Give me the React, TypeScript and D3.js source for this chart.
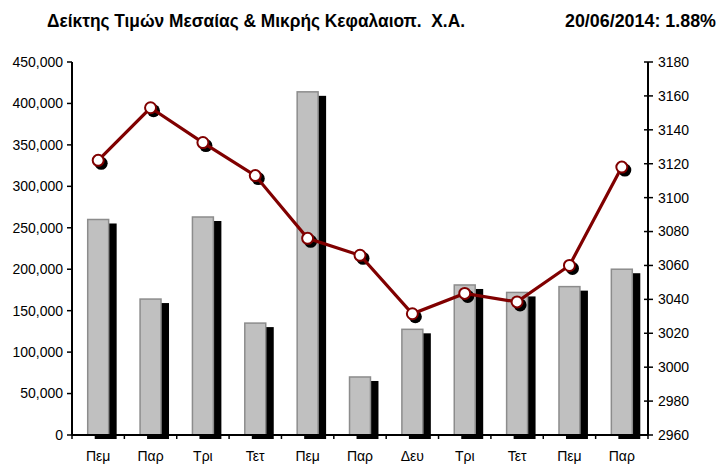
import { useEffect, useRef } from 'react';
import * as d3 from 'd3';

const days = ['Πεμ', 'Παρ', 'Τρι', 'Τετ', 'Πεμ', 'Παρ', 'Δευ', 'Τρι', 'Τετ', 'Πεμ', 'Παρ'];
const volume = [260000, 164000, 263000, 135000, 414000, 70000, 127500, 181000, 172000, 179000, 200000];
const indexValue = [3122, 3153, 3132.5, 3113, 3076, 3066, 3031.5, 3043.5, 3038.5, 3060, 3118];
const leftTicks = [0, 50000, 100000, 150000, 200000, 250000, 300000, 350000, 400000, 450000];
const rightTicks = [2960, 2980, 3000, 3020, 3040, 3060, 3080, 3100, 3120, 3140, 3160, 3180];

const title = 'Δείκτης Τιμών Μεσαίας & Μικρής Κεφαλαιοπ.  Χ.Α.';
const subtitle = '20/06/2014: 1.88%';

export default function App() {
  const svgRef = useRef<SVGSVGElement>(null);

  useEffect(() => {
    const width = 719;
    const height = 465;
    const left = 72;
    const right = 648;
    const top = 62;
    const bottom = 435;
    const font = 'Arial, "Liberation Sans", sans-serif';

    const svg = d3.select(svgRef.current)
      .attr('width', width)
      .attr('height', height);
    svg.selectAll('*').remove();

    const x = d3.scaleBand<number>()
      .domain(days.map((_, i) => i))
      .range([left, right]);
    const yLeft = d3.scaleLinear().domain([0, 450000]).range([bottom, top]);
    const yRight = d3.scaleLinear().domain([2960, 3180]).range([bottom, top]);
    const barW = x.bandwidth() * 0.4;
    const cx = (i: number) => (x(i) as number) + x.bandwidth() / 2;

    // titles
    svg.append('text')
      .attr('x', 47).attr('y', 27)
      .attr('font-family', font).attr('font-weight', 'bold').attr('font-size', 17.5)
      .attr('textLength', 418).attr('lengthAdjust', 'spacingAndGlyphs')
      .style('white-space', 'pre')
      .text(title);
    svg.append('text')
      .attr('x', 716).attr('y', 27)
      .attr('text-anchor', 'end')
      .attr('font-family', font).attr('font-weight', 'bold').attr('font-size', 17.5)
      .attr('textLength', 151).attr('lengthAdjust', 'spacingAndGlyphs')
      .text(subtitle);

    // bars with shadow
    svg.append('g').selectAll('rect')
      .data(volume)
      .enter().append('rect')
      .attr('x', (d, i) => cx(i) - barW / 2 + 7)
      .attr('y', d => yLeft(d) + 4)
      .attr('width', barW + 1)
      .attr('height', d => bottom - yLeft(d))
      .attr('fill', '#000');
    svg.append('g').selectAll('rect')
      .data(volume)
      .enter().append('rect')
      .attr('x', (d, i) => cx(i) - barW / 2)
      .attr('y', d => yLeft(d))
      .attr('width', barW)
      .attr('height', d => bottom - yLeft(d))
      .attr('fill', '#c0c0c0')
      .attr('stroke', '#8c8c8c')
      .attr('stroke-width', 1.5);

    // axes
    const axisG = svg.append('g').attr('stroke', '#000').attr('stroke-width', 2);
    axisG.append('line').attr('x1', left).attr('x2', left).attr('y1', top).attr('y2', bottom);
    axisG.append('line').attr('x1', right).attr('x2', right).attr('y1', top).attr('y2', bottom);
    axisG.append('line').attr('x1', left).attr('x2', right).attr('y1', bottom).attr('y2', bottom);

    const tickG = svg.append('g').attr('stroke', '#000').attr('stroke-width', 1.5);
    leftTicks.forEach(t => {
      tickG.append('line').attr('x1', left - 5).attr('x2', left).attr('y1', yLeft(t)).attr('y2', yLeft(t));
    });
    rightTicks.forEach(t => {
      tickG.append('line').attr('x1', right - 4).attr('x2', right + 5).attr('y1', yRight(t)).attr('y2', yRight(t));
    });
    d3.range(days.length + 1).forEach(i => {
      const xx = left + i * x.bandwidth();
      tickG.append('line').attr('x1', xx).attr('x2', xx).attr('y1', bottom).attr('y2', bottom + 4);
    });

    const fmt = d3.format(',');
    svg.append('g').selectAll('text')
      .data(leftTicks)
      .enter().append('text')
      .attr('x', left - 9)
      .attr('y', d => yLeft(d))
      .attr('dy', '0.35em')
      .attr('text-anchor', 'end')
      .attr('font-family', font).attr('font-size', 14)
      .text(d => fmt(d));
    svg.append('g').selectAll('text')
      .data(rightTicks)
      .enter().append('text')
      .attr('x', right + 10)
      .attr('y', d => yRight(d))
      .attr('dy', '0.35em')
      .attr('font-family', font).attr('font-size', 14)
      .text(d => d);
    svg.append('g').selectAll('text')
      .data(days)
      .enter().append('text')
      .attr('x', (d, i) => cx(i))
      .attr('y', 461)
      .attr('text-anchor', 'middle')
      .attr('font-family', font).attr('font-size', 14)
      .text(d => d);

    // line with markers
    const line = d3.line<number>()
      .x((d, i) => cx(i))
      .y(d => yRight(d));
    svg.append('g').selectAll('circle')
      .data(indexValue)
      .enter().append('circle')
      .attr('cx', (d, i) => cx(i) + 3)
      .attr('cy', d => yRight(d) + 3)
      .attr('r', 6.5)
      .attr('fill', '#000');
    svg.append('path')
      .datum(indexValue)
      .attr('d', line)
      .attr('fill', 'none')
      .attr('stroke', '#800000')
      .attr('stroke-width', 3.2);
    svg.append('g').selectAll('circle')
      .data(indexValue)
      .enter().append('circle')
      .attr('cx', (d, i) => cx(i))
      .attr('cy', d => yRight(d))
      .attr('r', 5.5)
      .attr('fill', '#fff')
      .attr('stroke', '#800000')
      .attr('stroke-width', 2);
  }, []);

  return <svg ref={svgRef} style={{ position: 'absolute', left: 0, top: 0 }}></svg>;
}
